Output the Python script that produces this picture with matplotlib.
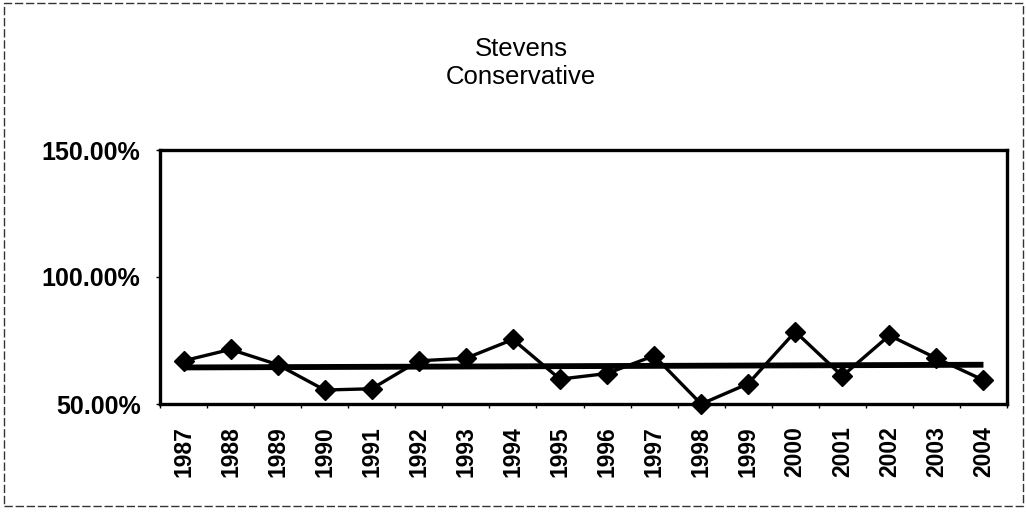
import numpy as np
import matplotlib.pyplot as plt
from matplotlib.patches import Rectangle
from matplotlib.ticker import FuncFormatter

# yearly values (percent)
years = [str(y) for y in range(1987, 2005)]
values = [67.0, 71.5, 65.5, 55.5, 56.0, 67.0, 68.0, 75.4, 59.8, 62.0,
          69.0, 50.0, 58.0, 78.5, 61.0, 77.0, 68.0, 59.4]

plt.rcParams['font.family'] = ['Liberation Sans', 'DejaVu Sans']

fig = plt.figure(figsize=(10.26, 5.12), dpi=100)
ax = fig.add_axes([160 / 1026, 1 - 404 / 512, (1007 - 160) / 1026, (404 - 150) / 512])

x = np.arange(len(years))
vals = np.array(values)

# linear trend across the whole period
k, b = np.polyfit(x, vals, 1)
ax.plot(x, k * x + b, color='black', lw=4.2, solid_capstyle='butt', zorder=2)

ax.plot(x, vals, color='black', lw=2.4, marker='D', markersize=10,
        clip_on=False, zorder=3)

ax.set_xlim(-0.5, len(years) - 0.5)
ax.set_ylim(50, 150)
ax.set_yticks([50, 100, 150])
ax.yaxis.set_major_formatter(FuncFormatter(lambda v, p: f'{v:.2f}%'))
ax.tick_params(axis='y', length=3, width=1, pad=11, labelsize=18)
for lab in ax.get_yticklabels():
    lab.set_fontweight('bold')

ax.set_xticks(x)
ax.set_xticklabels(years, rotation=90, fontsize=16.5, fontweight='bold')
ax.set_xticks(np.arange(-0.5, len(years)), minor=True)
ax.tick_params(axis='x', which='major', length=0, pad=16)
ax.tick_params(axis='x', which='minor', length=3, width=1)

for s in ax.spines.values():
    s.set_linewidth(2.4)

fig.text(0.508, 0.877, 'Stevens\nConservative', ha='center', va='center',
         fontsize=18.5, linespacing=1.2)

# thin frame around the whole sheet
fig.patches.append(Rectangle((0.004, 0.012), 0.993, 0.983, transform=fig.transFigure,
                             fill=False, lw=1, ls=(0, (6, 2)), edgecolor='#333333'))

fig.savefig('out.png', dpi=100)
